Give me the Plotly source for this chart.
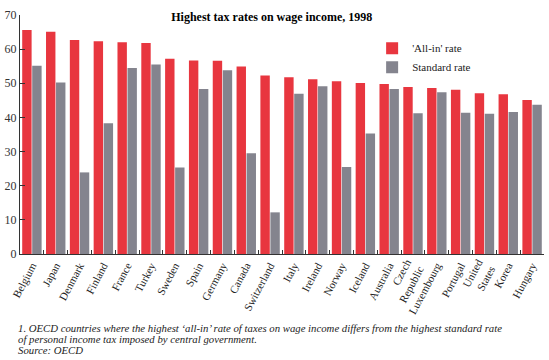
import plotly.graph_objects as go

countries = ["Belgium", "Japan", "Denmark", "Finland", "France", "Turkey", "Sweden", "Spain",
             "Germany", "Canada", "Switzerland", "Italy", "Ireland", "Norway", "Iceland",
             "Australia", "Czech<br>Republic", "Luxembourg", "Portugal", "United<br>States",
             "Korea", "Hungary"]
all_in = [65.6, 65.1, 62.7, 62.3, 62.0, 61.8, 57.2, 56.7, 56.6, 54.9, 52.3, 51.8, 51.2, 50.6,
          50.1, 49.8, 48.9, 48.6, 48.1, 47.1, 46.8, 45.1]
standard = [55.1, 50.2, 23.9, 38.3, 54.5, 55.5, 25.3, 48.3, 53.8, 29.5, 12.2, 46.9, 49.1, 25.5,
            35.3, 48.3, 41.2, 47.4, 41.4, 41.1, 41.6, 43.7]
yticks = [0, 10, 20, 30, 40, 50, 60, 70]

serif = "Liberation Serif, Times New Roman, serif"

fig = go.Figure()
fig.add_trace(go.Bar(x=countries, y=all_in, name="'All-in' rate",
                     marker=dict(color="#e8363f", line=dict(width=0))))
fig.add_trace(go.Bar(x=countries, y=standard, name="Standard rate",
                     marker=dict(color="#84848e", line=dict(width=0))))

fig.update_layout(
    width=549, height=360,
    margin=dict(l=20, r=5, t=15, b=106, autoexpand=False),
    paper_bgcolor="white", plot_bgcolor="white",
    barmode="group", bargap=0.16, bargroupgap=0.06,
    font=dict(family=serif, color="#222"),
    title=dict(text="<b>Highest tax rates on wage income, 1998</b>",
               x=0.495, xanchor="center", y=0.953, yanchor="middle",
               font=dict(family=serif, size=12, color="#000")),
    legend=dict(x=0.672, y=0.922, xanchor="left", yanchor="top",
                font=dict(family=serif, size=11, color="#222"),
                bgcolor="rgba(0,0,0,0)", itemwidth=30, tracegroupgap=2),
    showlegend=True,
)
fig.update_xaxes(showline=True, linecolor="#333", linewidth=1, automargin=False,
                 ticks="inside", tickson="boundaries", ticklen=4, tickcolor="#333",
                 tickangle=-62, tickfont=dict(family=serif, size=11, color="#222"),
                 showgrid=False)
fig.update_yaxes(range=[0, 70], tickvals=yticks, showline=True, linecolor="#333", linewidth=1,
                 automargin=False,
                 ticks="inside", ticklen=5, tickcolor="#333", showgrid=False, zeroline=False,
                 tickfont=dict(family=serif, size=12, color="#333"))

notes = ["1. OECD countries where the highest ‘all-in’ rate of taxes on wage income differs from the highest standard rate",
         "of personal income tax imposed by central government.",
         "Source: OECD"]
for i, t in enumerate(notes):
    fig.add_annotation(text="<i>" + t + "</i>", xref="paper", yref="paper",
                       x=-0.007, y=-0.3095 - i * 0.047, xanchor="left", yanchor="middle",
                       showarrow=False, font=dict(family=serif, size=10.75, color="#222"))

fig.write_html("out.html", config={"displayModeBar": False},
               post_script="document.body.style.margin='0';")
